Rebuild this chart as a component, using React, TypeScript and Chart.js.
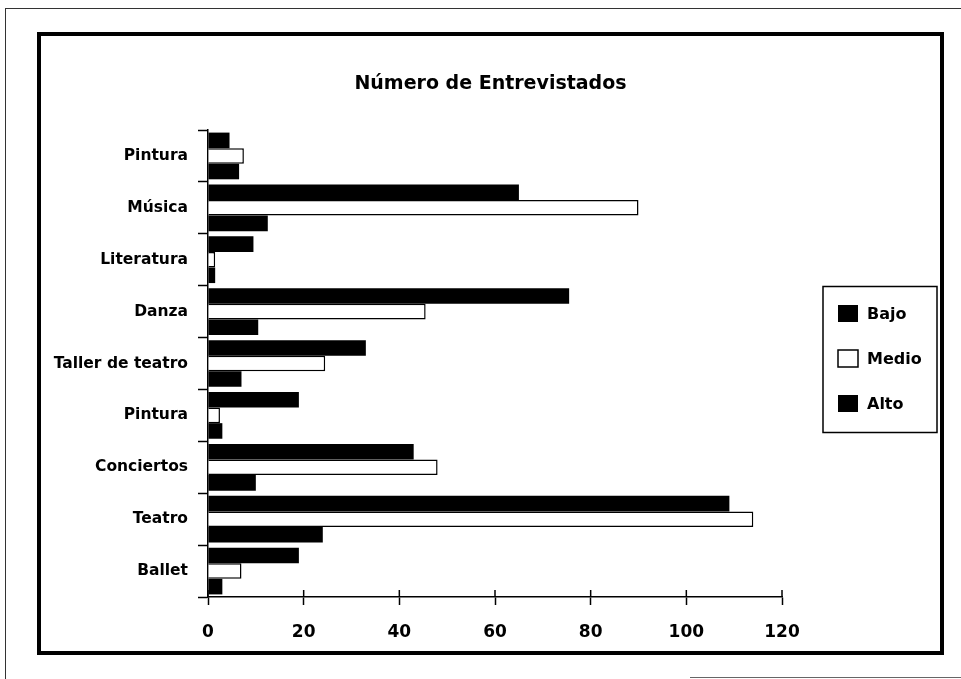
import React, { useEffect, useRef } from "react";
import { Chart, registerables } from "chart.js";

Chart.register(...registerables);

const categories = [
  "Pintura",
  "Música",
  "Literatura",
  "Danza",
  "Taller de teatro",
  "Pintura",
  "Conciertos",
  "Teatro",
  "Ballet",
];
const seriesNames = ["Bajo", "Medio", "Alto"];
const bajo = [4.5, 65, 9.5, 75.5, 33, 19, 43, 109, 19];
const medio = [7.5, 90, 1.5, 45.5, 24.5, 2.5, 48, 114, 7];
const alto = [6.5, 12.5, 1.5, 10.5, 7, 3, 10, 24, 3];
const xTicks = [0, 20, 40, 60, 80, 100, 120];
const titleText = "Número de Entrevistados";

const FONT = "'DejaVu Sans', 'Liberation Sans', Arial, sans-serif";

const innerTicksPlugin = {
  id: "innerTicks",
  afterDraw(chart: any) {
    const { ctx } = chart;
    const xs = chart.scales.x;
    ctx.save();
    ctx.strokeStyle = "#000";
    ctx.lineWidth = 1.5;
    ctx.beginPath();
    xs.ticks.forEach((_t: any, i: number) => {
      const px = xs.getPixelForTick(i);
      ctx.moveTo(px, xs.top);
      ctx.lineTo(px, xs.top - 7);
    });
    ctx.stroke();
    ctx.restore();
  },
};

const boxLegendPlugin = {
  id: "boxLegend",
  afterDraw(chart: any) {
    const { ctx, chartArea } = chart;
    const mid = (chartArea.top + chartArea.bottom) / 2;
    const frameX = chartArea.right + 41;
    const frameW = 114;
    const frameH = 146;
    const frameY = mid - 4 - frameH / 2;
    ctx.save();
    ctx.strokeStyle = "#000";
    ctx.lineWidth = 1.5;
    ctx.strokeRect(frameX, frameY, frameW, frameH);
    chart.data.datasets.forEach((ds: any, i: number) => {
      const cy = mid - 5 + (i - 1) * 45;
      const bx = chartArea.right + 56;
      ctx.fillStyle = ds.backgroundColor;
      ctx.fillRect(bx, cy - 8.5, 20, 17);
      if (ds.borderWidth) {
        ctx.strokeStyle = "#000";
        ctx.lineWidth = 1.5;
        ctx.strokeRect(bx, cy - 8.5, 20, 17);
      }
      ctx.fillStyle = "#000";
      ctx.font = `bold 16px ${FONT}`;
      ctx.textBaseline = "middle";
      ctx.textAlign = "left";
      ctx.fillText(ds.label, chartArea.right + 85, cy + 1);
    });
    ctx.restore();
  },
};

export default function App() {
  const canvasRef = useRef<HTMLCanvasElement | null>(null);

  useEffect(() => {
    if (!canvasRef.current) return;
    const chart = new Chart(canvasRef.current, {
      type: "bar",
      data: {
        labels: categories,
        datasets: [
          {
            label: seriesNames[0],
            data: bajo,
            backgroundColor: "#000",
            borderWidth: 0,
          },
          {
            label: seriesNames[1],
            data: medio,
            backgroundColor: "#fff",
            borderColor: "#000",
            borderWidth: 1.5,
          },
          {
            label: seriesNames[2],
            data: alto,
            backgroundColor: "#000",
            borderWidth: 0,
          },
        ],
      },
      options: {
        indexAxis: "y",
        animation: false,
        responsive: false,
        devicePixelRatio: 1,
        layout: { padding: { top: 0, left: 0, right: 0, bottom: 0 } },
        datasets: {
          bar: { categoryPercentage: 0.9, barPercentage: 1.0 },
        },
        plugins: {
          legend: { display: false },
          tooltip: { enabled: false },
          title: {
            display: true,
            text: titleText,
            color: "#000",
            font: { family: FONT, size: 19, weight: "bold", lineHeight: 1.2 },
            padding: { top: 37, bottom: 34.2 },
          },
        },
        scales: {
          x: {
            type: "linear",
            min: 0,
            max: 120,
            afterBuildTicks: (s: any) => {
              s.ticks = xTicks.map((v) => ({ value: v }));
            },
            afterFit: (s: any) => {
              s.height = 54;
            },
            grid: {
              display: true,
              drawOnChartArea: false,
              drawTicks: true,
              tickLength: 8,
              tickWidth: 1.5,
              tickColor: "#000",
            },
            border: { display: true, color: "#000", width: 1.5 },
            ticks: {
              color: "#000",
              padding: 17,
              maxRotation: 0,
              font: { family: FONT, size: 17, weight: "bold" },
            },
          },
          y: {
            type: "category",
            afterFit: (s: any) => {
              s.width = 167;
            },
            grid: {
              display: true,
              offset: true,
              drawOnChartArea: false,
              drawTicks: true,
              tickLength: 10,
              tickWidth: 1.5,
              tickColor: "#000",
            },
            border: { display: true, color: "#000", width: 1.5 },
            ticks: {
              color: "#000",
              padding: 10,
              autoSkip: false,
              font: { family: FONT, size: 15.5, weight: "bold" },
            },
          },
          legendSpace: {
            type: "category",
            position: "right",
            display: true,
            afterFit: (s: any) => {
              s.width = 158;
            },
            grid: { display: false },
            border: { display: false },
            ticks: { display: false },
          },
        },
      },
      plugins: [innerTicksPlugin, boxLegendPlugin],
    } as any);
    return () => chart.destroy();
  }, []);

  return (
    <div>
      <div
        style={{
          position: "fixed",
          left: 5,
          top: 8,
          width: 956,
          height: 671,
          boxSizing: "border-box",
          borderLeft: "1.5px solid #333",
          borderTop: "1.5px solid #333",
        }}
      />
      <div
        style={{
          position: "fixed",
          left: 690,
          top: 677,
          width: 271,
          height: 0,
          borderTop: "1.5px solid #666",
        }}
      />
      <div
        style={{
          position: "fixed",
          left: 37,
          top: 32,
          width: 907,
          height: 623,
          border: "4px solid #000",
          boxSizing: "border-box",
          background: "#fff",
        }}
      >
        <canvas
          ref={canvasRef}
          width={899}
          height={615}
          style={{ display: "block", width: 899, height: 615 }}
        />
      </div>
    </div>
  );
}
